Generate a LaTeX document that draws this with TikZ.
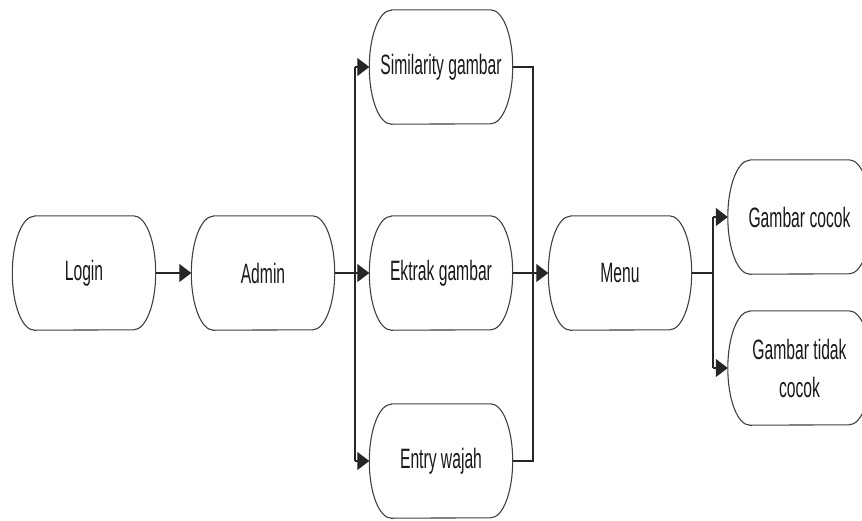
\documentclass[tikz,border=0pt]{standalone}
\usepackage{fontspec}
\setmainfont{Liberation Sans}[FakeStretch=0.56]
\usetikzlibrary{arrows.meta}
\begin{document}
\begin{tikzpicture}[x=1pt,y=-1pt,
  box/.style={minimum width=143pt,minimum height=114pt,inner sep=0pt,align=center,
    text=black!90,font=\fontsize{28}{38}\selectfont},
  outline/.style={draw=black!75,line width=1.1pt},
  link/.style={draw=black!85,line width=1.1pt},
  arr/.style={link,-{Triangle[length=12pt,width=18pt]}}]
\useasboundingbox (0,0) rectangle (862,520);

% process boxes
\node[box] (login) at (84,273)  {Login};
\node[box] (admin) at (263,273) {Admin};
\node[box] (sim)   at (441,67)  {Similarity gambar};
\node[box] (ekt)   at (441,273) {Ektrak gambar};
\node[box] (ent)   at (441,461) {Entry wajah};
\node[box] (menu)  at (620,273) {Menu};
\node[box] (ok)    at (799.5,217) {Gambar cocok};
\node[box] (no)    at (799.5,368) {Gambar tidak\\cocok};

% outlines: straight top and bottom, elliptical ends
\foreach \n in {login,admin,sim,ekt,ent,menu,ok,no}
  \draw[outline] ([xshift=22pt]\n.north west) -- ([xshift=-22pt]\n.north east)
    arc[start angle=90,end angle=-90,x radius=22pt,y radius=57pt]
    -- ([xshift=22pt]\n.south west)
    arc[start angle=270,end angle=90,x radius=22pt,y radius=57pt] -- cycle;

% bus coordinates
\coordinate (busL) at (355,273);
\coordinate (busR) at (533,273);
\coordinate (busM) at (713,273);

% connectors
\draw[arr] (login) -- (admin);
\draw[link] (admin.east) -- (busL);
\draw[link] (busL |- sim.west) -- (busL |- ent.west);
\draw[arr] (busL |- sim.west) -- (sim.west);
\draw[arr] (busL) -- (ekt.west);
\draw[arr] (busL |- ent.west) -- (ent.west);

\draw[link] (sim.east) -- (busR |- sim.east) -- (busR |- ent.east) -- (ent.east);
\draw[arr] (ekt) -- (menu);

\draw[link] (menu.east) -- (busM);
\draw[link] (busM |- ok.west) -- (busM |- no.west);
\draw[arr] (busM |- ok.west) -- (ok.west);
\draw[arr] (busM |- no.west) -- (no.west);
\end{tikzpicture}
\end{document}
